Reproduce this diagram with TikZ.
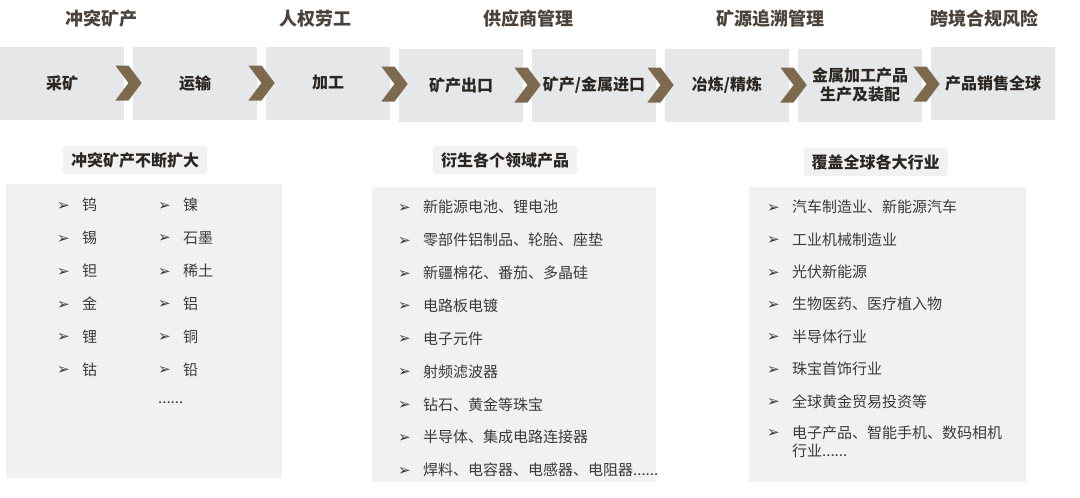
\documentclass[tikz,border=0pt]{standalone}
\usepackage{fontspec}
\setmainfont{Noto Sans CJK SC}
\newfontfamily\symfont{DejaVu Sans}
\usepackage{xcolor}
\usepackage{tikz}
\usetikzlibrary{
    shapes.symbols,
    positioning,
    calc
}
\definecolor{chainfill}{HTML}{E6E7E8}
\definecolor{panelfill}{HTML}{F1F1F1}
\definecolor{chevbrown}{HTML}{7D6A4E}
\definecolor{titlegray}{HTML}{4A423B}
\definecolor{boxtext}{HTML}{2B2622}
\definecolor{listtext}{HTML}{3A3A3A}
% list bullet
\newcommand{\itm}{\makebox[25pt][l]{\symfont\fontsize{15pt}{15pt}\selectfont\raisebox{0.5pt}{➢}}}
\tikzset{
    % Chain step box
    stepbox/.style={
        rectangle,
        fill=chainfill,
        text=boxtext,
        font=\fontsize{16pt}{19pt}\selectfont\bfseries,
        minimum width=124pt,
        minimum height=73pt,
        align=center,
        inner sep=0pt
    },
    % Chevron between steps
    chevron/.style={
        signal,
        signal to=east,
        signal from=west,
        signal pointer angle=106,
        fill=chevbrown,
        minimum width=25pt,
        minimum height=35pt,
        inner sep=0pt
    },
    % Risk heading
    riskhead/.style={
        text=titlegray,
        font=\fontsize{18pt}{20pt}\selectfont\bfseries
    },
    % Section tag
    tagbox/.style={
        rectangle,
        rounded corners=3pt,
        fill=panelfill,
        text=boxtext,
        font=\fontsize{16pt}{18pt}\selectfont\bfseries,
        minimum width=144pt,
        minimum height=28pt,
        inner sep=0pt
    },
    % List panel
    listpanel/.style={
        rectangle,
        fill=panelfill,
        inner sep=0pt
    },
    % List item
    listitem/.style={
        anchor=west,
        inner sep=0pt,
        minimum height=32.5pt,
        text=listtext,
        font=\fontsize{15pt}{18pt}\selectfont,
        align=left
    },
    % Industry item, a little tighter
    inditem/.style={
        listitem,
        minimum height=32pt
    }
}

\begin{document}
\begin{tikzpicture}[x=1pt, y=-1pt]

    \useasboundingbox (0,0) rectangle (1080,498);

    % Risk headings
    \node[riskhead] (tconflict) at (101,18.5) {冲突矿产};
    \node[riskhead] (tlabour) at (315,18.5) {人权劳工};
    \node[riskhead] (tsupply) at (528,18.5) {供应商管理};
    \node[riskhead] (ttrace) at (770,18.5) {矿源追溯管理};
    \node[riskhead] (tcross) at (984,18.5) {跨境合规风险};

    % Chain steps
    \node[stepbox] (mine) at (62,83) {采矿};
    \node[stepbox, right=8.6pt of mine] (trans) {运输};
    \node[stepbox, right=8.6pt of trans] (proc) {加工};
    \node[stepbox, right=8.6pt of proc, yshift=-2pt] (export) {矿产出口};
    \node[stepbox, right=8.6pt of export] (import) {矿产/金属进口};
    \node[stepbox, right=8.6pt of import] (smelt) {冶炼/精炼};
    \node[stepbox, right=8.6pt of smelt] (make) {金属加工产品\\生产及装配};
    \node[stepbox, right=8.6pt of make, yshift=2pt] (sale) {产品销售全球};

    % Chevrons
    \node[chevron] (chv1) at ($(mine.east)!0.5!(trans.west)$) {};
    \node[chevron] (chv2) at ($(trans.east)!0.5!(proc.west)$) {};
    \node[chevron] (chv3) at ($(proc.east)!0.5!(export.west)$) {};
    \node[chevron] (chv4) at ($(export.east)!0.5!(import.west)$) {};
    \node[chevron] (chv5) at ($(import.east)!0.5!(smelt.west)$) {};
    \node[chevron] (chv6) at ($(smelt.east)!0.5!(make.west)$) {};
    \node[chevron] (chv7) at ($(make.east)!0.5!(sale.west)$) {};

    % Panels
    \node[listpanel, minimum width=276pt, minimum height=294pt] (pmine) at (144,331) {};
    \node[listpanel, minimum width=284pt, minimum height=295pt] (pprod) at (514,334.5) {};
    \node[listpanel, minimum width=277pt, minimum height=295pt] (pind) at (887.5,334.5) {};

    % Tags
    \node[tagbox] (tagmine) at (135,160) {冲突矿产不断扩大};
    \node[tagbox] (tagprod) at (505,160) {衍生各个领域产品};
    \node[tagbox] (tagind) at (875.5,162) {覆盖全球各大行业};

    % Minerals, first column
    \node[listitem] (ma1) at (57,205) {\itm 钨};
    \node[listitem, below=0pt of ma1.south west, anchor=north west] (ma2) {\itm 锡};
    \node[listitem, below=0pt of ma2.south west, anchor=north west] (ma3) {\itm 钽};
    \node[listitem, below=0pt of ma3.south west, anchor=north west] (ma4) {\itm 金};
    \node[listitem, below=0pt of ma4.south west, anchor=north west] (ma5) {\itm 锂};
    \node[listitem, below=0pt of ma5.south west, anchor=north west] (ma6) {\itm 钴};

    % Minerals, second column
    \node[listitem] (mb1) at (158,205) {\itm 镍};
    \node[listitem, below=0pt of mb1.south west, anchor=north west] (mb2) {\itm 石墨};
    \node[listitem, below=0pt of mb2.south west, anchor=north west] (mb3) {\itm 稀土};
    \node[listitem, below=0pt of mb3.south west, anchor=north west] (mb4) {\itm 铝};
    \node[listitem, below=0pt of mb4.south west, anchor=north west] (mb5) {\itm 铜};
    \node[listitem, below=0pt of mb5.south west, anchor=north west] (mb6) {\itm 铅};
    \node[listitem, below=0pt of mb6.south west, anchor=north west] (mb7) {......};

    % Products
    \node[listitem] (pr1) at (398,207) {\itm 新能源电池、锂电池};
    \node[listitem, below=0pt of pr1.south west, anchor=north west] (pr2) {\itm 零部件铝制品、轮胎、座垫};
    \node[listitem, below=0pt of pr2.south west, anchor=north west] (pr3) {\itm 新疆棉花、番茄、多晶硅};
    \node[listitem, below=0pt of pr3.south west, anchor=north west] (pr4) {\itm 电路板电镀};
    \node[listitem, below=0pt of pr4.south west, anchor=north west] (pr5) {\itm 电子元件};
    \node[listitem, below=0pt of pr5.south west, anchor=north west] (pr6) {\itm 射频滤波器};
    \node[listitem, below=0pt of pr6.south west, anchor=north west] (pr7) {\itm 钻石、黄金等珠宝};
    \node[listitem, below=0pt of pr7.south west, anchor=north west] (pr8) {\itm 半导体、集成电路连接器};
    \node[listitem, below=0pt of pr8.south west, anchor=north west] (pr9) {\itm 焊料、电容器、电感器、电阻器......};

    % Industries
    \node[inditem] (in1) at (767,207) {\itm 汽车制造业、新能源汽车};
    \node[inditem, below=0pt of in1.south west, anchor=north west] (in2) {\itm 工业机械制造业};
    \node[inditem, below=0pt of in2.south west, anchor=north west] (in3) {\itm 光伏新能源};
    \node[inditem, below=0pt of in3.south west, anchor=north west] (in4) {\itm 生物医药、医疗植入物};
    \node[inditem, below=0pt of in4.south west, anchor=north west] (in5) {\itm 半导体行业};
    \node[inditem, below=0pt of in5.south west, anchor=north west] (in6) {\itm 珠宝首饰行业};
    \node[inditem, below=0pt of in6.south west, anchor=north west] (in7) {\itm 全球黄金贸易投资等};
    \node[inditem, below=7.5pt of in7.south west, anchor=north west] (in8) {\itm 电子产品、智能手机、数码相机\\\hspace*{25pt}行业......};

\end{tikzpicture}
\end{document}
